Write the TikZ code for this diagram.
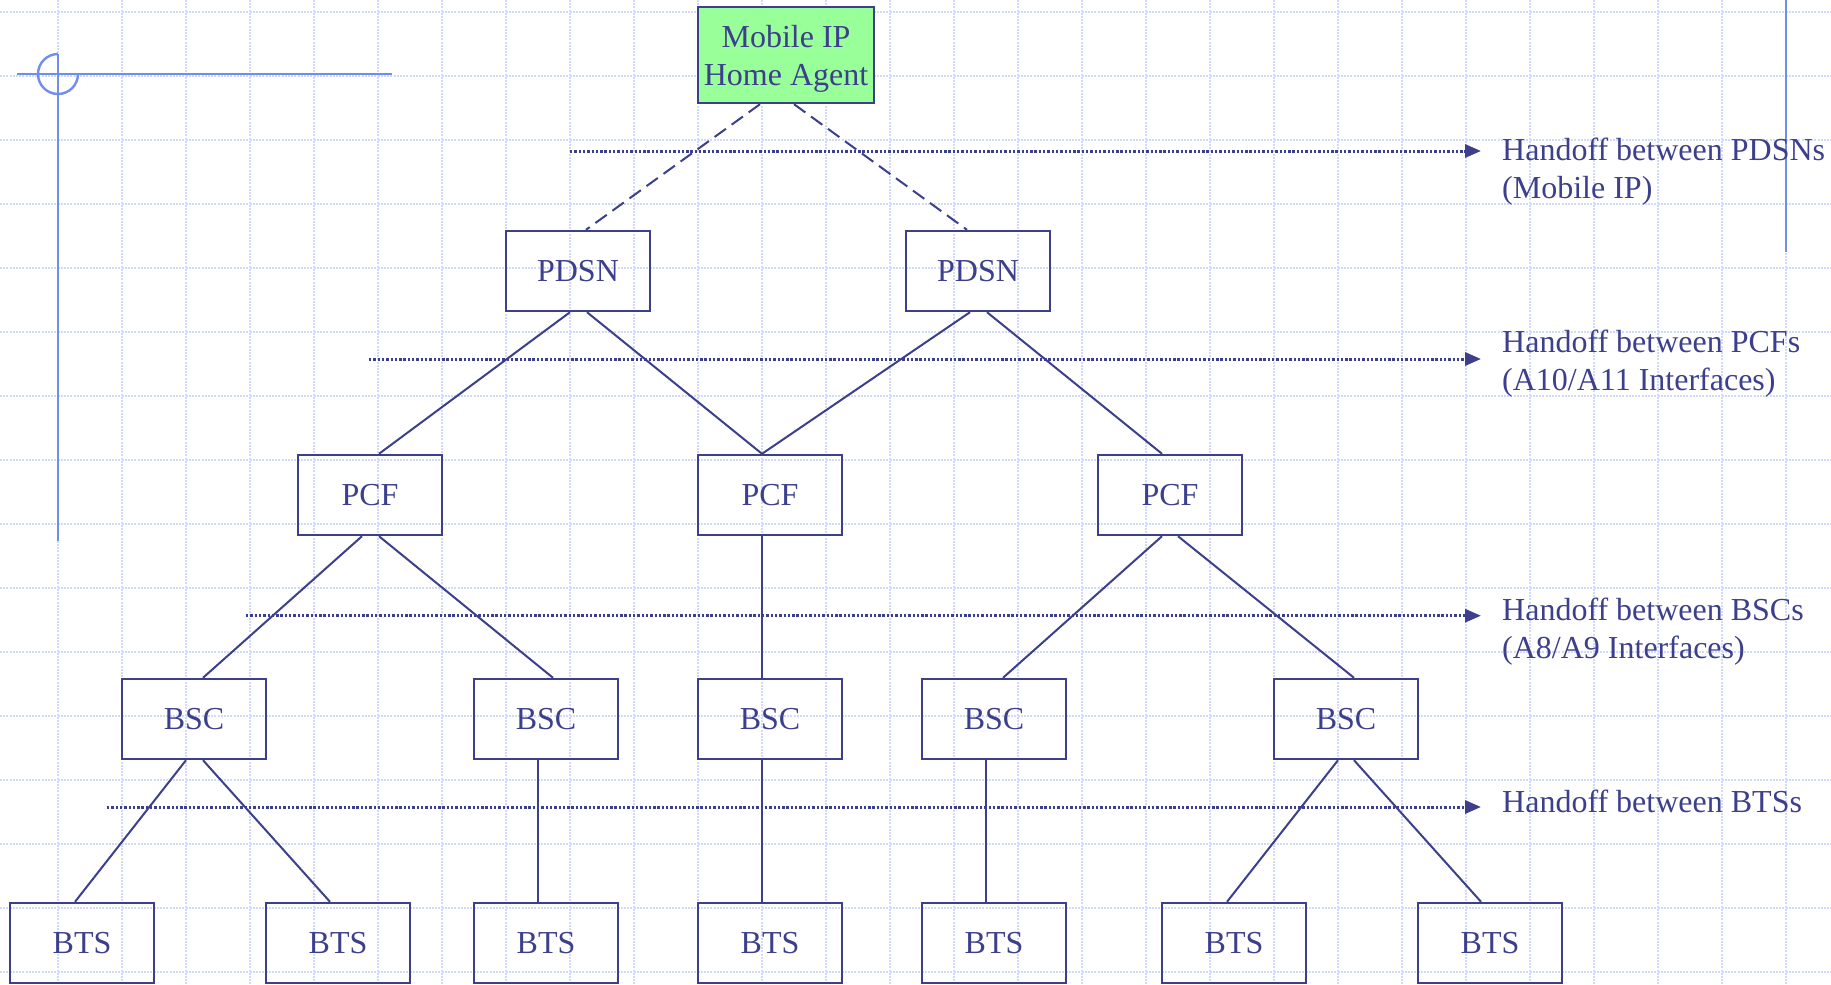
\documentclass[tikz,border=0pt]{standalone}
\usepackage{fontspec}
\setmainfont{Liberation Serif}
\usetikzlibrary{arrows.meta}
\definecolor{ink}{RGB}{60,63,140}
\definecolor{gridc}{RGB}{208,218,253}
\definecolor{crossc}{RGB}{112,142,238}
\definecolor{hagreen}{RGB}{153,255,153}
\begin{document}
\begin{tikzpicture}[x=1pt,y=-1pt,
  box/.style={draw=ink, line width=2.4pt, rectangle, inner sep=0pt,
    minimum width=144pt, minimum height=80pt, text=ink,
    font=\fontsize{32}{38}\selectfont},
  link/.style={draw=ink, line width=2pt},
  halink/.style={link, dash pattern=on 14pt off 7pt},
  handoff/.style={draw=ink, line width=3pt, dash pattern=on 2.4pt off 1.9pt,
    -{Triangle[length=16pt,width=13pt]}},
  hlabel/.style={anchor=base west, inner sep=0pt, text=ink, align=left,
    font=\fontsize{32}{38}\selectfont},
  gridline/.style={draw=gridc, line width=1.6pt, dash pattern=on 2pt off 1.2pt},
  crossline/.style={draw=crossc, line width=2.4pt}]
\useasboundingbox (0,0) rectangle (1831,985);
\fill[white] (0,0) rectangle (1831,985);
% background grid
\foreach \k in {0,...,27} \draw[gridline] ({58+64*\k},0) -- ({58+64*\k},985);
\foreach \k in {0,...,15} \draw[gridline] (0,{12+64*\k}) -- (1831,{12+64*\k});
% crosshair decoration
\draw[crossline] (17,74) -- (392,74);
\draw[crossline] (58,54) -- (58,541);
\draw[crossline] (58,74) ++(0,-20) arc[start angle=270, end angle=0, radius=20];
\draw[crossline] (1786,0) -- (1786,252);
% nodes
\node[box, fill=hagreen, minimum width=176pt, minimum height=96pt, align=center, text depth=0pt] (ha) at (786,55) {Mobile IP\\Home Agent};
\node[box] (pdsn1) at (578,271) {PDSN};
\node[box] (pdsn2) at (978,271) {PDSN};
\node[box] (pcf1) at (370,495) {PCF};
\node[box] (pcf2) at (770,495) {PCF};
\node[box] (pcf3) at (1170,495) {PCF};
\node[box] (bsc1) at (194,719) {BSC};
\node[box] (bsc2) at (546,719) {BSC};
\node[box] (bsc3) at (770,719) {BSC};
\node[box] (bsc4) at (994,719) {BSC};
\node[box] (bsc5) at (1346,719) {BSC};
\node[box] (bts1) at (82,943) {BTS};
\node[box] (bts2) at (338,943) {BTS};
\node[box] (bts3) at (546,943) {BTS};
\node[box] (bts4) at (770,943) {BTS};
\node[box] (bts5) at (994,943) {BTS};
\node[box] (bts6) at (1234,943) {BTS};
\node[box] (bts7) at (1490,943) {BTS};
% connectors
\draw[halink] ([xshift=-26pt]ha.south) -- ([xshift=8pt]pdsn1.north);
\draw[halink] ([xshift=8pt]ha.south) -- ([xshift=-11pt]pdsn2.north);
\draw[link] ([xshift=-8pt]pdsn1.south) -- ([xshift=9pt]pcf1.north);
\draw[link] ([xshift=9pt]pdsn1.south) -- ([xshift=-8pt]pcf2.north);
\draw[link] ([xshift=-8pt]pdsn2.south) -- ([xshift=-8pt]pcf2.north);
\draw[link] ([xshift=9pt]pdsn2.south) -- ([xshift=-8pt]pcf3.north);
\draw[link] ([xshift=-8pt]pcf1.south) -- ([xshift=9pt]bsc1.north);
\draw[link] ([xshift=9pt]pcf1.south) -- ([xshift=7pt]bsc2.north);
\draw[link] ([xshift=-8pt]pcf2.south) -- ([xshift=-8pt]bsc3.north);
\draw[link] ([xshift=-8pt]pcf3.south) -- ([xshift=9pt]bsc4.north);
\draw[link] ([xshift=8pt]pcf3.south) -- ([xshift=8pt]bsc5.north);
\draw[link] ([xshift=-8pt]bsc1.south) -- ([xshift=-7pt]bts1.north);
\draw[link] ([xshift=9pt]bsc1.south) -- ([xshift=-8pt]bts2.north);
\draw[link] ([xshift=-8pt]bsc2.south) -- ([xshift=-8pt]bts3.north);
\draw[link] ([xshift=-8pt]bsc3.south) -- ([xshift=-8pt]bts4.north);
\draw[link] ([xshift=-8pt]bsc4.south) -- ([xshift=-8pt]bts5.north);
\draw[link] ([xshift=-8pt]bsc5.south) -- ([xshift=-7pt]bts6.north);
\draw[link] ([xshift=8pt]bsc5.south) -- ([xshift=-9pt]bts7.north);
% handoff levels
\coordinate (h1s) at (570,151); \coordinate (h1e) at (1481,151);
\coordinate (h2s) at (369,359); \coordinate (h2e) at (1481,359);
\coordinate (h3s) at (246,615.7); \coordinate (h3e) at (1481,615.7);
\coordinate (h4s) at (107,807); \coordinate (h4e) at (1481,807);
\draw[handoff] (h1s) -- (h1e);
\draw[handoff] (h2s) -- (h2e);
\draw[handoff] (h3s) -- (h3e);
\draw[handoff] (h4s) -- (h4e);
\node[hlabel] (t1) at (1502,198) {Handoff between PDSNs\\(Mobile IP)};
\node[hlabel] (t2) at (1502,390) {Handoff between PCFs\\(A10/A11 Interfaces)};
\node[hlabel] (t3) at (1502,658) {Handoff between BSCs\\(A8/A9 Interfaces)};
\node[hlabel] (t4) at (1502,812) {Handoff between BTSs};
\end{tikzpicture}
\end{document}
